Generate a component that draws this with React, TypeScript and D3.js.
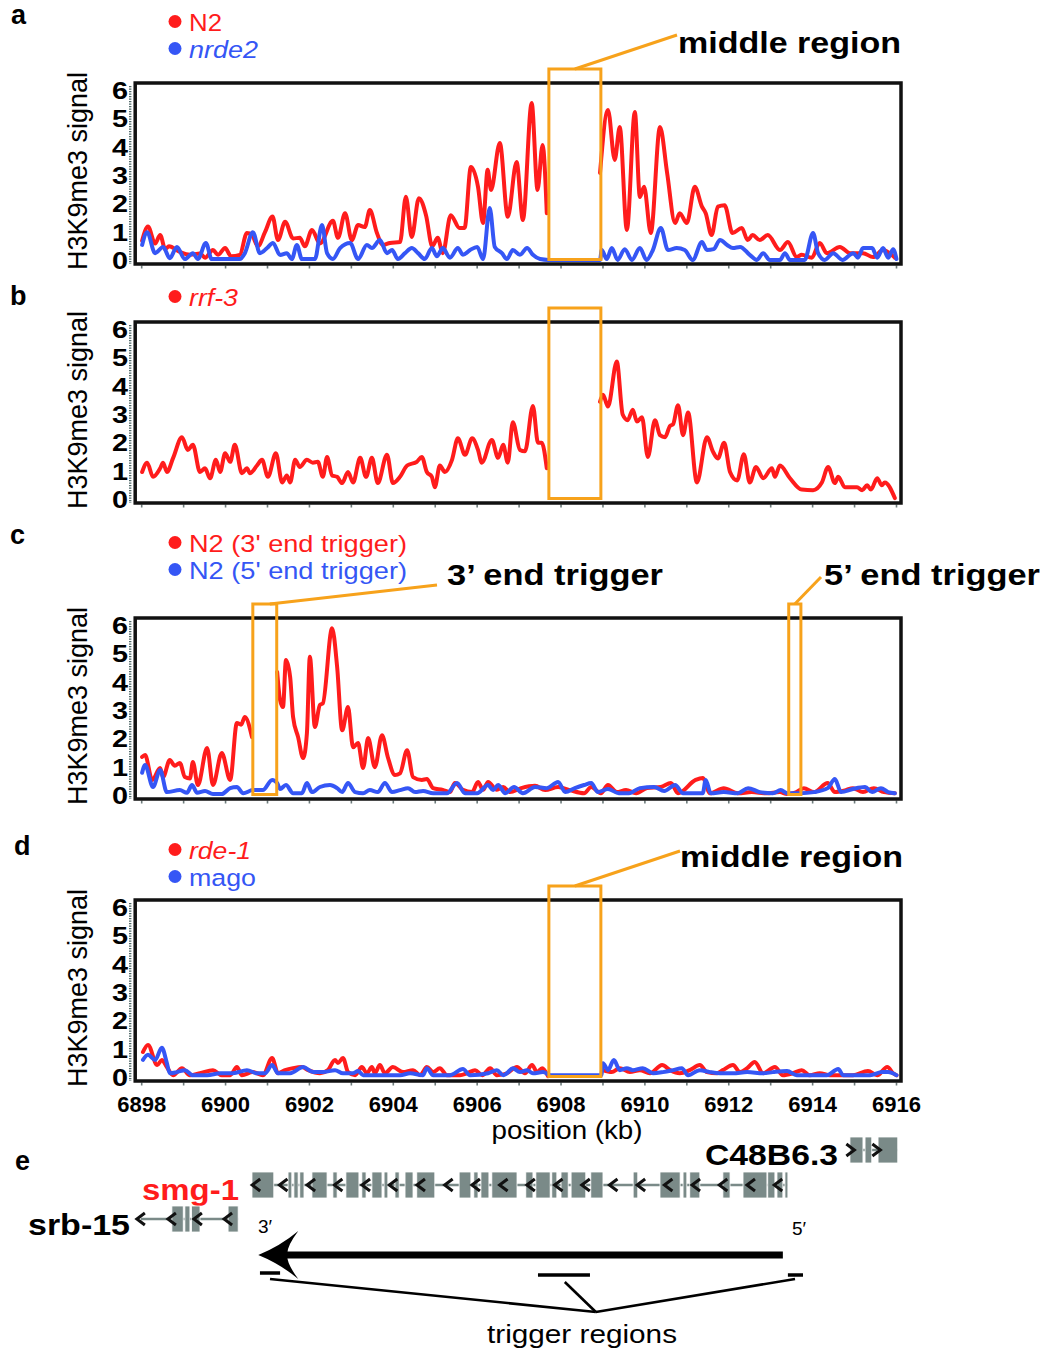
import React from 'react';
import * as d3 from 'd3';

// H3K9me3 signal along the smg-1 locus, panels a-d, plus gene model (e)
type Pt = [number, number | null];

const xTicks = d3.range(6898, 6917, 1);
const xTickLabels = [6898, 6900, 6902, 6904, 6906, 6908, 6910, 6912, 6914, 6916];
const yTicks = [0, 1, 2, 3, 4, 5, 6];

// trigger regions (kb)
const middleRegion = [6907.71, 6908.95];
const end3Region = [6900.65, 6901.22];
const end5Region = [6913.43, 6913.72];

// panel a : N2 / nrde2
const n2A: Pt[] = [
  [6898.01, 0.7], [6898.15, 1.2], [6898.32, 0.6], [6898.44, 0.9], [6898.56, 0.4], [6898.65, 0.5],
  [6898.91, 0.3], [6899.15, 0.2], [6899.39, 0.25], [6899.51, 0.1], [6899.70, 0.37], [6899.82, 0.2],
  [6899.99, 0.44], [6900.13, 0.15], [6900.34, 0.2], [6900.51, 0.97], [6900.63, 0.9], [6900.77, 0.5],
  [6900.94, 1.0], [6901.12, 1.55], [6901.25, 0.72], [6901.42, 1.37], [6901.61, 0.78], [6901.77, 0.8],
  [6901.89, 0.5], [6902.06, 1.08], [6902.25, 0.6], [6902.56, 1.4], [6902.68, 0.8], [6902.85, 1.67],
  [6903.01, 0.72], [6903.16, 1.25], [6903.32, 1.18], [6903.44, 1.78], [6903.61, 0.97], [6903.75, 0.55],
  [6903.92, 0.62], [6904.16, 0.65], [6904.30, 2.25], [6904.44, 0.83], [6904.61, 2.2], [6904.78, 1.6],
  [6904.93, 0.5], [6905.06, 0.8], [6905.18, 0.26], [6905.37, 1.6], [6905.58, 1.15], [6905.70, 1.15],
  [6905.85, 3.3], [6906.02, 2.6], [6906.14, 1.32], [6906.25, 3.2], [6906.33, 2.49], [6906.54, 4.15],
  [6906.73, 1.54], [6906.94, 3.48], [6907.09, 1.43], [6907.30, 5.56], [6907.44, 2.49], [6907.56, 4.08],
  [6907.66, 1.67], [6908.3, null],
  [6908.93, 3.09], [6909.12, 5.31], [6909.28, 3.55], [6909.40, 4.71], [6909.57, 1.08], [6909.76, 5.24],
  [6909.88, 2.24], [6909.98, 2.6], [6910.14, 0.97], [6910.36, 4.71], [6910.53, 3.09], [6910.72, 1.32],
  [6910.83, 1.67], [6911.00, 1.32], [6911.19, 2.6], [6911.36, 1.9], [6911.45, 1.67], [6911.59, 0.9],
  [6911.74, 1.9], [6911.90, 1.95], [6912.09, 0.97], [6912.31, 1.15], [6912.45, 0.72], [6912.57, 0.9],
  [6912.74, 0.72], [6912.93, 0.9], [6913.22, 0.37], [6913.41, 0.65], [6913.62, 0.12], [6913.74, 0.2],
  [6913.98, 0.1], [6914.17, 0.62], [6914.34, 0.26], [6914.65, 0.48], [6914.89, 0.26], [6915.20, 0.26],
  [6915.44, 0.12], [6915.68, 0.37], [6915.84, 0.25], [6915.96, 0.1],
];
const nrde2A: Pt[] = [
  [6898.01, 0.55], [6898.13, 1.0], [6898.32, 0.26], [6898.51, 0.48], [6898.67, 0.08], [6898.84, 0.48],
  [6899.03, 0.05], [6899.22, 0.26], [6899.34, 0.05], [6899.53, 0.62], [6899.67, 0.05], [6900.34, 0.05],
  [6900.46, 0.26], [6900.65, 1.0], [6900.82, 0.26], [6900.99, 0.44], [6901.13, 0.62], [6901.30, 0.19],
  [6901.46, 0.26], [6901.58, 0.05], [6901.70, 0.55], [6901.82, 0.05], [6902.13, 0.05], [6902.30, 1.25],
  [6902.42, 0.26], [6902.56, 0.05], [6902.73, 0.44], [6902.97, 0.62], [6903.16, 0.05], [6903.37, 0.55],
  [6903.49, 0.44], [6903.68, 0.72], [6903.85, 0.26], [6903.97, 0.37], [6904.11, 0.05], [6904.28, 0.26],
  [6904.44, 0.44], [6904.59, 0.26], [6904.75, 0.05], [6904.92, 0.44], [6905.04, 0.15], [6905.18, 0.44],
  [6905.35, 0.1], [6905.54, 0.44], [6905.66, 0.2], [6905.83, 0.37], [6906.00, 0.48], [6906.14, 0.05],
  [6906.30, 1.85], [6906.42, 0.48], [6906.59, 0.26], [6906.71, 0.05], [6906.85, 0.37], [6907.02, 0.2],
  [6907.19, 0.44], [6907.33, 0.2], [6907.50, 0.05], [6907.70, 0.02], [6908.93, 0.02], [6908.97, 0.37],
  [6909.09, 0.05], [6909.21, 0.44], [6909.35, 0.02], [6909.52, 0.4], [6909.69, 0.02], [6909.88, 0.44],
  [6910.04, 0.02], [6910.19, 0.37], [6910.38, 1.15], [6910.55, 0.37], [6910.76, 0.44], [6910.95, 0.37],
  [6911.14, 0.02], [6911.36, 0.65], [6911.48, 0.37], [6911.64, 0.4], [6911.79, 0.72], [6911.96, 0.55],
  [6912.10, 0.44], [6912.27, 0.48], [6912.50, 0.2], [6912.67, 0.02], [6912.82, 0.26], [6912.98, 0.02],
  [6913.22, 0.02], [6913.34, 0.26], [6913.46, 0.02], [6913.81, 0.02], [6914.01, 0.97], [6914.13, 0.26],
  [6914.29, 0.02], [6914.49, 0.26], [6914.71, 0.02], [6914.97, 0.26], [6915.08, 0.1], [6915.20, 0.44],
  [6915.42, 0.44], [6915.54, 0.1], [6915.68, 0.44], [6915.80, 0.1], [6915.92, 0.4], [6916.0, 0.05],
];

// panel b : rrf-3
const rrf3B: Pt[] = [
  [6898.01, 0.97], [6898.13, 1.3], [6898.27, 0.8], [6898.44, 1.1], [6898.51, 1.3], [6898.60, 0.97],
  [6898.75, 1.47], [6898.96, 2.2], [6899.10, 1.75], [6899.22, 1.93], [6899.39, 0.97], [6899.51, 1.1],
  [6899.63, 0.75], [6899.77, 1.4], [6899.87, 0.97], [6899.99, 1.63], [6900.11, 1.33], [6900.22, 1.93],
  [6900.39, 0.93], [6900.51, 1.1], [6900.58, 0.93], [6900.75, 1.2], [6900.87, 1.4], [6901.01, 0.8],
  [6901.20, 1.63], [6901.35, 0.6], [6901.46, 0.85], [6901.54, 0.6], [6901.66, 1.4], [6901.77, 1.15],
  [6901.94, 1.4], [6902.08, 1.3], [6902.20, 1.33], [6902.32, 0.8], [6902.42, 1.5], [6902.54, 0.85],
  [6902.66, 0.8], [6902.78, 0.58], [6902.92, 0.97], [6903.04, 0.6], [6903.21, 1.47], [6903.35, 0.8],
  [6903.49, 1.47], [6903.63, 0.58], [6903.85, 1.58], [6903.99, 0.58], [6904.16, 0.8], [6904.33, 1.2],
  [6904.56, 1.33], [6904.68, 1.5], [6904.80, 0.97], [6904.92, 0.8], [6904.99, 0.43], [6905.11, 1.2],
  [6905.23, 0.97], [6905.40, 1.4], [6905.54, 2.16], [6905.71, 1.58], [6905.88, 2.16], [6906.02, 1.75],
  [6906.11, 1.3], [6906.35, 2.1], [6906.50, 1.47], [6906.62, 1.93], [6906.73, 1.3], [6906.85, 2.73],
  [6907.02, 1.75], [6907.14, 1.7], [6907.33, 3.3], [6907.45, 2.0], [6907.54, 2.0], [6907.66, 1.1],
  [6908.3, null],
  [6908.93, 3.45], [6909.00, 3.7], [6909.12, 3.28], [6909.33, 4.87], [6909.47, 3.0], [6909.59, 2.8],
  [6909.71, 3.17], [6909.81, 2.75], [6909.93, 2.9], [6910.07, 1.5], [6910.24, 2.8], [6910.36, 2.27],
  [6910.48, 2.2], [6910.60, 2.6], [6910.67, 2.65], [6910.79, 3.33], [6910.91, 2.27], [6911.03, 3.07],
  [6911.24, 0.6], [6911.48, 2.2], [6911.62, 1.7], [6911.74, 1.45], [6911.89, 2.0], [6912.03, 0.97],
  [6912.20, 0.67], [6912.36, 1.6], [6912.50, 0.6], [6912.65, 1.15], [6912.82, 0.75], [6913.03, 1.1],
  [6913.10, 0.8], [6913.22, 1.2], [6913.46, 0.75], [6913.74, 0.35], [6914.01, 0.33], [6914.22, 0.6],
  [6914.37, 1.15], [6914.53, 0.58], [6914.61, 0.8], [6914.77, 0.43], [6915.06, 0.43], [6915.18, 0.33],
  [6915.30, 0.5], [6915.39, 0.35], [6915.54, 0.75], [6915.65, 0.5], [6915.72, 0.6], [6915.96, 0.05],
];

// panel c : N2 3' end trigger / 5' end trigger
const n2End3C: Pt[] = [
  [6898.01, 1.36], [6898.08, 1.43], [6898.25, 0.55], [6898.44, 0.97], [6898.51, 0.65], [6898.67, 1.25],
  [6898.79, 1.05], [6898.91, 1.15], [6899.03, 0.65], [6899.15, 0.6], [6899.22, 1.18], [6899.34, 0.37],
  [6899.56, 1.68], [6899.70, 0.37], [6899.91, 1.5], [6900.11, 0.55], [6900.27, 2.56], [6900.37, 2.5],
  [6900.46, 2.77], [6900.63, 2.06], [6900.9, null],
  [6901.23, 4.36], [6901.30, 3.37], [6901.37, 3.12], [6901.44, 4.78], [6901.54, 4.18], [6901.61, 2.77],
  [6901.73, 2.06], [6901.85, 1.32], [6901.94, 2.2], [6902.01, 4.9], [6902.13, 2.42], [6902.25, 3.2],
  [6902.32, 3.25], [6902.54, 5.9], [6902.66, 4.55], [6902.78, 2.3], [6902.92, 3.12], [6903.04, 1.7],
  [6903.16, 1.85], [6903.28, 0.97], [6903.40, 2.03], [6903.56, 1.0], [6903.73, 2.13], [6903.87, 1.35],
  [6904.04, 0.72], [6904.16, 0.78], [6904.33, 1.6], [6904.47, 0.65], [6904.68, 0.55], [6904.80, 0.58],
  [6904.95, 0.26], [6905.18, 0.2], [6905.35, 0.12], [6905.47, 0.44], [6905.66, 0.2], [6905.88, 0.12],
  [6906.02, 0.48], [6906.14, 0.2], [6906.26, 0.48], [6906.47, 0.2], [6906.62, 0.3], [6906.78, 0.12],
  [6907.05, 0.26], [6907.38, 0.34], [6907.62, 0.19], [6907.93, 0.3], [6908.21, 0.19], [6908.55, 0.08],
  [6908.72, 0.3], [6908.95, 0.08], [6909.12, 0.37], [6909.33, 0.12], [6909.55, 0.19], [6909.79, 0.08],
  [6910.05, 0.26], [6910.38, 0.3], [6910.62, 0.44], [6910.79, 0.08], [6911.21, 0.55], [6911.38, 0.62],
  [6911.55, 0.08], [6911.88, 0.26], [6912.22, 0.08], [6912.55, 0.12], [6912.89, 0.08], [6913.22, 0.12],
  [6913.39, 0.05], [6913.58, 0.1], [6913.79, 0.26], [6914.03, 0.12], [6914.36, 0.44], [6914.53, 0.12],
  [6914.79, 0.19], [6914.96, 0.26], [6915.20, 0.12], [6915.46, 0.26], [6915.70, 0.12], [6915.96, 0.08],
];
const n2End5C: Pt[] = [
  [6898.01, 0.8], [6898.08, 1.08], [6898.27, 0.3], [6898.44, 0.9], [6898.60, 0.12], [6898.91, 0.19],
  [6899.08, 0.1], [6899.20, 0.37], [6899.32, 0.1], [6899.51, 0.16], [6899.70, 0.05], [6899.91, 0.05],
  [6900.11, 0.26], [6900.27, 0.3], [6900.42, 0.08], [6900.65, 0.19], [6900.89, 0.19], [6901.11, 0.55],
  [6901.23, 0.44], [6901.30, 0.23], [6901.44, 0.37], [6901.61, 0.08], [6901.82, 0.08], [6901.94, 0.44],
  [6902.06, 0.12], [6902.25, 0.3], [6902.49, 0.37], [6902.66, 0.26], [6902.78, 0.12], [6902.92, 0.44],
  [6903.09, 0.12], [6903.28, 0.08], [6903.44, 0.19], [6903.63, 0.12], [6903.80, 0.44], [6903.97, 0.12],
  [6904.16, 0.19], [6904.35, 0.26], [6904.52, 0.12], [6904.71, 0.16], [6904.95, 0.08], [6905.28, 0.08],
  [6905.52, 0.44], [6905.71, 0.08], [6906.00, 0.08], [6906.26, 0.37], [6906.38, 0.19], [6906.50, 0.37],
  [6906.67, 0.08], [6906.88, 0.3], [6907.09, 0.08], [6907.38, 0.3], [6907.66, 0.26], [6907.93, 0.48],
  [6908.10, 0.12], [6908.33, 0.26], [6908.55, 0.37], [6908.72, 0.44], [6908.88, 0.12], [6909.12, 0.23],
  [6909.38, 0.08], [6909.62, 0.08], [6909.88, 0.26], [6910.22, 0.3], [6910.46, 0.16], [6910.72, 0.37],
  [6910.91, 0.08], [6911.38, 0.08], [6911.45, 0.55], [6911.57, 0.08], [6911.88, 0.12], [6912.22, 0.08],
  [6912.46, 0.26], [6912.74, 0.12], [6913.05, 0.08], [6913.24, 0.19], [6913.39, 0.08], [6913.70, 0.08],
  [6914.03, 0.12], [6914.36, 0.26], [6914.53, 0.58], [6914.68, 0.12], [6914.96, 0.23], [6915.25, 0.3],
  [6915.42, 0.12], [6915.63, 0.26], [6915.80, 0.12], [6915.96, 0.08],
];

// panel d : rde-1 / mago
const rde1D: Pt[] = [
  [6898.03, 0.9], [6898.15, 1.15], [6898.37, 0.44], [6898.48, 0.62], [6898.60, 0.37], [6898.75, 0.08],
  [6898.96, 0.33], [6899.15, 0.08], [6899.39, 0.15], [6899.70, 0.26], [6899.91, 0.08], [6900.11, 0.08],
  [6900.27, 0.37], [6900.39, 0.08], [6900.65, 0.19], [6900.89, 0.08], [6901.11, 0.69], [6901.25, 0.15],
  [6901.42, 0.26], [6901.61, 0.33], [6901.82, 0.37], [6901.97, 0.26], [6902.25, 0.15], [6902.44, 0.26],
  [6902.61, 0.62], [6902.68, 0.51], [6902.80, 0.69], [6902.92, 0.19], [6903.09, 0.08], [6903.25, 0.37],
  [6903.37, 0.15], [6903.49, 0.37], [6903.56, 0.15], [6903.68, 0.44], [6903.80, 0.15], [6903.99, 0.37],
  [6904.23, 0.19], [6904.47, 0.26], [6904.64, 0.08], [6904.80, 0.37], [6904.95, 0.19], [6905.11, 0.33],
  [6905.28, 0.08], [6905.59, 0.08], [6905.76, 0.15], [6905.95, 0.26], [6906.12, 0.08], [6906.31, 0.33],
  [6906.47, 0.08], [6906.71, 0.15], [6906.95, 0.37], [6907.14, 0.15], [6907.31, 0.44], [6907.43, 0.19],
  [6907.55, 0.33], [6907.69, 0.05], [6908.3, null],
  [6909.00, 0.26], [6909.21, 0.19], [6909.40, 0.33], [6909.64, 0.19], [6909.88, 0.26], [6910.12, 0.15],
  [6910.41, 0.44], [6910.60, 0.26], [6910.83, 0.15], [6911.07, 0.26], [6911.31, 0.44], [6911.48, 0.19],
  [6911.72, 0.15], [6911.86, 0.26], [6912.10, 0.44], [6912.27, 0.19], [6912.44, 0.33], [6912.62, 0.55],
  [6912.82, 0.15], [6913.10, 0.37], [6913.29, 0.08], [6913.53, 0.15], [6913.74, 0.26], [6913.93, 0.08],
  [6914.17, 0.15], [6914.41, 0.08], [6914.96, 0.08], [6915.32, 0.23], [6915.54, 0.08], [6915.78, 0.37],
  [6915.92, 0.15], [6916.0, 0.08],
];
const magoD: Pt[] = [
  [6898.03, 0.62], [6898.15, 0.8], [6898.32, 0.62], [6898.48, 1.05], [6898.60, 0.51], [6898.67, 0.15],
  [6898.84, 0.19], [6899.03, 0.26], [6899.22, 0.08], [6899.56, 0.08], [6899.87, 0.15], [6900.18, 0.15],
  [6900.51, 0.26], [6900.75, 0.15], [6900.94, 0.15], [6901.11, 0.44], [6901.25, 0.15], [6901.54, 0.15],
  [6901.85, 0.37], [6902.09, 0.19], [6902.32, 0.19], [6902.61, 0.26], [6902.80, 0.15], [6903.04, 0.15],
  [6903.16, 0.23], [6903.28, 0.08], [6903.68, 0.08], [6904.16, 0.08], [6904.40, 0.15], [6904.71, 0.08],
  [6904.80, 0.33], [6904.95, 0.08], [6905.35, 0.08], [6905.66, 0.3], [6905.83, 0.08], [6906.26, 0.15],
  [6906.47, 0.26], [6906.62, 0.08], [6906.71, 0.15], [6906.85, 0.33], [6907.02, 0.19], [6907.19, 0.26],
  [6907.33, 0.15], [6907.57, 0.19], [6907.76, 0.08], [6908.96, 0.08], [6909.00, 0.5], [6909.12, 0.26],
  [6909.26, 0.62], [6909.40, 0.26], [6909.57, 0.33], [6909.71, 0.26], [6909.95, 0.33], [6910.19, 0.15],
  [6910.43, 0.19], [6910.67, 0.26], [6910.88, 0.33], [6911.03, 0.08], [6911.31, 0.26], [6911.55, 0.19],
  [6911.79, 0.15], [6912.10, 0.15], [6912.44, 0.19], [6912.82, 0.15], [6913.05, 0.19], [6913.39, 0.23],
  [6913.62, 0.08], [6914.01, 0.08], [6914.34, 0.08], [6914.61, 0.3], [6914.73, 0.08], [6915.06, 0.08],
  [6915.37, 0.08], [6915.66, 0.19], [6915.80, 0.19], [6916.0, 0.08],
];

// panel e : gene models (kb)
const smg1Exons = [
  [6900.63, 6901.15], [6901.49, 6901.58], [6901.63, 6901.73], [6901.77, 6901.87], [6902.06, 6902.42],
  [6902.56, 6902.66], [6902.87, 6903.18], [6903.25, 6903.35], [6903.49, 6903.73], [6903.78, 6903.87],
  [6904.04, 6904.14], [6904.28, 6904.47], [6904.56, 6904.99], [6905.57, 6905.85], [6905.92, 6906.02],
  [6906.09, 6906.28], [6906.35, 6906.95], [6907.16, 6907.33], [6907.40, 6907.74], [6907.78, 6907.90],
  [6908.00, 6908.17], [6908.24, 6908.59], [6908.71, 6909.00], [6909.72, 6909.83], [6910.36, 6910.84],
  [6910.91, 6911.00], [6911.07, 6911.31], [6911.86, 6912.03], [6912.34, 6912.91], [6912.93, 6913.10],
  [6913.15, 6913.29], [6913.34, 6913.41],
];
const smg1Chevrons = [
  6900.73, 6901.38, 6902.04, 6902.69, 6903.35, 6904.00, 6904.66, 6905.32, 6905.97, 6906.63,
  6907.28, 6907.94, 6908.59, 6909.25, 6909.91, 6910.56, 6911.22, 6911.87, 6912.53, 6913.18,
];
const srb15Exons = [[6898.72, 6898.99], [6899.03, 6899.15], [6899.19, 6899.39], [6900.06, 6900.30]];
const srb15Chevrons = [6897.98, 6898.72, 6899.34, 6900.06];
const c48Exons = [[6914.89, 6915.20], [6915.25, 6915.41], [6915.56, 6916.03]];
const c48Chevrons = [6914.9, 6915.52];
const dsRNA = [6900.78, 6913.29];
const triggerBars = [[6900.82, 6901.30], [6907.45, 6908.69], [6913.41, 6913.77]];
const triggerFeet = [6901.06, 6908.09, 6913.58];
const triggerApex = 6908.83;

const RED = '#ff1c1c';
const BLUE = '#3556f5';
const ORANGE = '#f7a21b';
const GENE = '#7a8a88';
const FONT = '"Liberation Sans", Arial, Helvetica, sans-serif';

const x = d3.scaleLinear().domain([6898, 6916]).range([141.7, 896.5]);
const FRAME_H = 181;
const yOf = (top: number) => d3.scaleLinear().domain([0, 6]).range([top + 177.5, top + 7.5]);

function Frame({ top }: { top: number }) {
  const y = yOf(top);
  const left = x(6898) - 6.5;
  const right = x(6916) + 4.5;
  const bottom = top + FRAME_H;
  return (
    <g>
      <line x1={left - 5} x2={left - 5} y1={top + 3} y2={bottom} stroke="#4f6868" strokeWidth={2.4} strokeDasharray="1.2 1.3" />
      {xTicks.map(t => (
        <line key={t} x1={x(t)} x2={x(t)} y1={bottom + 1.5} y2={bottom + 4.5} stroke="#6d7b7b" strokeWidth={1.6} />
      ))}
      {yTicks.map(t => (
        <text key={t} transform={`translate(128,${y(t) + 8.5}) scale(1.2,1)`} textAnchor="end" fontSize={24} fontWeight="bold">{t}</text>
      ))}
      <text transform={`translate(87,${top + 88}) rotate(-90)`} textAnchor="middle" fontSize={27}>H3K9me3 signal</text>
      <rect x={left} y={top} width={right - left} height={FRAME_H} fill="none" stroke="#111" strokeWidth={3.5} />
    </g>
  );
}

function Trace({ top, data, color }: { top: number; data: Pt[]; color: string }) {
  const y = yOf(top);
  const line = d3.line<Pt>()
    .defined(d => d[1] !== null)
    .x(d => x(d[0]))
    .y(d => y(d[1] as number))
    .curve(d3.curveMonotoneX);
  return <path d={line(data) || ''} fill="none" stroke={color} strokeWidth={4} strokeLinejoin="round" strokeLinecap="round" />;
}

function RegionBox({ top, region }: { top: number; region: number[] }) {
  const y = yOf(top);
  return (
    <rect x={x(region[0])} y={top - 14} width={x(region[1]) - x(region[0])} height={y(0) - 1 - (top - 14)}
      fill="none" stroke={ORANGE} strokeWidth={3} />
  );
}

type LegendItem = { label: string; color: string; italic?: boolean; base: number; width: number };

function Legend({ items }: { items: LegendItem[] }) {
  return (
    <g>
      {items.map(it => (
        <g key={it.label}>
          <circle cx={175} cy={it.base - 9.5} r={6.5} fill={it.color} />
          <text x={189} y={it.base} fontSize={24.5} fill={it.color} fontStyle={it.italic ? 'italic' : 'normal'}
            textLength={it.width} lengthAdjust="spacingAndGlyphs">{it.label}</text>
        </g>
      ))}
    </g>
  );
}

function Chevron({ cx, cy, dir }: { cx: number; cy: number; dir: number }) {
  const w = 4 * dir;
  return <polyline points={`${cx + w},${cy - 6} ${cx - w},${cy} ${cx + w},${cy + 6}`} fill="none" stroke="#111" strokeWidth={3} strokeLinejoin="miter" />;
}

function Gene({ exons, chevrons, cy, start, end, dir }: { exons: number[][]; chevrons: number[]; cy: number; start: number; end: number; dir: number }) {
  return (
    <g>
      <line x1={x(start)} x2={x(end)} y1={cy} y2={cy} stroke={GENE} strokeWidth={2.5} />
      {exons.map((e, i) => (
        <rect key={i} x={x(e[0])} y={cy - 13} width={x(e[1]) - x(e[0])} height={26} fill={GENE} stroke="#fff" strokeWidth={0.8} />
      ))}
      {chevrons.map((c, i) => <Chevron key={i} cx={x(c)} cy={cy} dir={dir} />)}
    </g>
  );
}

export default function App() {
  const topA = 83, topB = 322, topC = 618, topD = 900;
  const tip = x(dsRNA[0]);
  const ay = 1255;
  return (
    <svg width={1050} height={1355} style={{ position: 'absolute', left: 0, top: 0, background: '#fff' }} fontFamily={FONT}>
      {/* panel letters */}
      <g fontSize={27} fontWeight="bold">
        <text x={11} y={24}>a</text>
        <text x={10} y={305}>b</text>
        <text x={10} y={544}>c</text>
        <text x={14} y={855}>d</text>
        <text x={15} y={1170}>e</text>
      </g>

      {/* a */}
      <Legend items={[
        { label: 'N2', color: RED, base: 31, width: 33 },
        { label: 'nrde2', color: BLUE, italic: true, base: 58, width: 69 },
      ]} />
      <Frame top={topA} />
      <Trace top={topA} data={n2A} color={RED} />
      <Trace top={topA} data={nrde2A} color={BLUE} />
      <RegionBox top={topA} region={middleRegion} />
      <line x1={x(d3.mean(middleRegion) as number)} y1={topA - 14} x2={677} y2={35} stroke={ORANGE} strokeWidth={3} />
      <text x={678} y={53} fontSize={30} fontWeight="bold" textLength={223} lengthAdjust="spacingAndGlyphs">middle region</text>

      {/* b */}
      <Legend items={[{ label: 'rrf-3', color: RED, italic: true, base: 306, width: 49 }]} />
      <Frame top={topB} />
      <Trace top={topB} data={rrf3B} color={RED} />
      <RegionBox top={topB} region={middleRegion} />

      {/* c */}
      <Legend items={[
        { label: "N2 (3' end trigger)", color: RED, base: 552, width: 218 },
        { label: "N2 (5' end trigger)", color: BLUE, base: 579, width: 218 },
      ]} />
      <Frame top={topC} />
      <Trace top={topC} data={n2End3C} color={RED} />
      <Trace top={topC} data={n2End5C} color={BLUE} />
      <RegionBox top={topC} region={end3Region} />
      <RegionBox top={topC} region={end5Region} />
      <line x1={x(end3Region[0]) + 17} y1={topC - 14} x2={437} y2={585} stroke={ORANGE} strokeWidth={3} />
      <text x={447} y={585} fontSize={30} fontWeight="bold" textLength={216} lengthAdjust="spacingAndGlyphs">3’ end trigger</text>
      <line x1={x(d3.mean(end5Region) as number)} y1={topC - 14} x2={821} y2={577} stroke={ORANGE} strokeWidth={3} />
      <text x={824} y={585} fontSize={30} fontWeight="bold" textLength={216} lengthAdjust="spacingAndGlyphs">5’ end trigger</text>

      {/* d */}
      <Legend items={[
        { label: 'rde-1', color: RED, italic: true, base: 859, width: 62 },
        { label: 'mago', color: BLUE, base: 886, width: 67 },
      ]} />
      <Frame top={topD} />
      <Trace top={topD} data={rde1D} color={RED} />
      <Trace top={topD} data={magoD} color={BLUE} />
      <RegionBox top={topD} region={middleRegion} />
      <line x1={x(d3.mean(middleRegion) as number)} y1={topD - 14} x2={680} y2={851} stroke={ORANGE} strokeWidth={3} />
      <text x={680} y={867} fontSize={30} fontWeight="bold" textLength={223} lengthAdjust="spacingAndGlyphs">middle region</text>

      {/* x axis labels */}
      {xTickLabels.map(t => (
        <text key={t} x={x(t)} y={1112} textAnchor="middle" fontSize={22} fontWeight="bold">{t}</text>
      ))}
      <text x={567} y={1139} textAnchor="middle" fontSize={25} textLength={151} lengthAdjust="spacingAndGlyphs">position (kb)</text>

      {/* e : gene models */}
      <Gene exons={c48Exons} chevrons={c48Chevrons} cy={1150} start={c48Exons[0][0]} end={6916.03} dir={-1} />
      <text x={705} y={1165} fontSize={30} fontWeight="bold" textLength={133} lengthAdjust="spacingAndGlyphs">C48B6.3</text>
      <Gene exons={smg1Exons} chevrons={smg1Chevrons} cy={1185} start={6900.63} end={6913.41} dir={1} />
      <text x={142} y={1200} fontSize={29} fontWeight="bold" fill={RED} textLength={97} lengthAdjust="spacingAndGlyphs">smg-1</text>
      <Gene exons={srb15Exons} chevrons={srb15Chevrons} cy={1219} start={6897.98} end={6900.30} dir={1} />
      <text x={28} y={1235} fontSize={29} fontWeight="bold" textLength={102} lengthAdjust="spacingAndGlyphs">srb-15</text>
      <text x={258} y={1233} fontSize={19}>3′</text>
      <text x={792} y={1235} fontSize={19}>5′</text>

      {/* dsRNA arrow */}
      <line x1={tip + 26} x2={x(dsRNA[1])} y1={ay} y2={ay} stroke="#000" strokeWidth={7} />
      <path d={`M${tip},${ay} Q${tip + 22},${ay - 9} ${tip + 40},${ay - 24} Q${tip + 28},${ay - 8} ${tip + 29},${ay} Q${tip + 28},${ay + 8} ${tip + 40},${ay + 24} Q${tip + 22},${ay + 9} ${tip},${ay} Z`} fill="#000" />

      {/* trigger regions */}
      {triggerBars.map((b, i) => (
        <line key={i} x1={x(b[0])} x2={x(b[1])} y1={i === 0 ? 1273 : 1275} y2={i === 0 ? 1273 : 1275} stroke="#000" strokeWidth={3.5} />
      ))}
      {triggerFeet.map((f, i) => (
        <line key={i} x1={x(f)} y1={i === 1 ? 1282 : 1279} x2={x(triggerApex)} y2={1312} stroke="#000" strokeWidth={2.6} />
      ))}
      <text x={487} y={1343} fontSize={26} textLength={190} lengthAdjust="spacingAndGlyphs">trigger regions</text>
    </svg>
  );
}
